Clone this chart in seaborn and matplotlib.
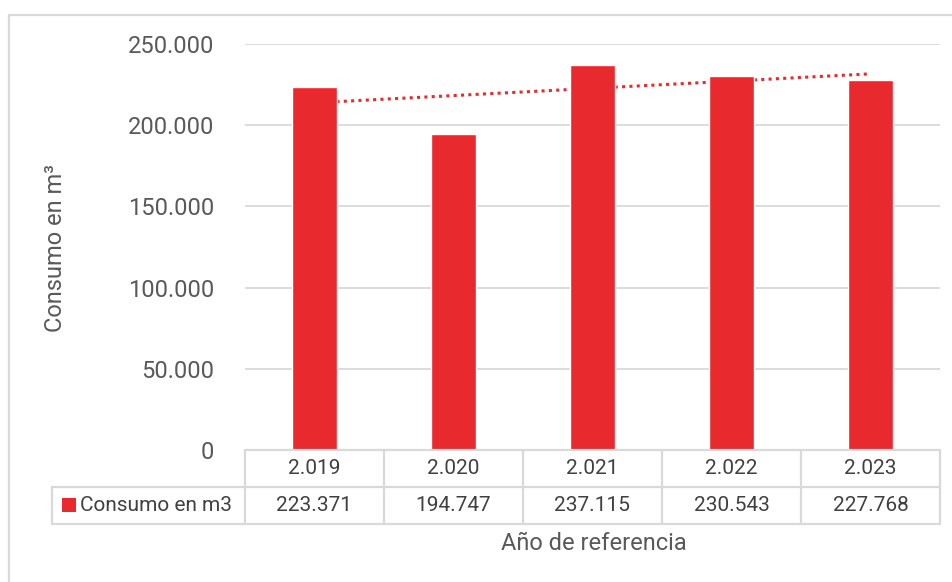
import numpy as np
import pandas as pd
import matplotlib
matplotlib.use("Agg")
import matplotlib.pyplot as plt
from matplotlib.lines import Line2D
from matplotlib.patches import Rectangle
import matplotlib.transforms as mtransforms
import seaborn as sns

# Consumption per reference year
years = ["2.019", "2.020", "2.021", "2.022", "2.023"]
consumo = [223371, 194747, 237115, 230543, 227768]
value_labels = ["223.371", "194.747", "237.115", "230.543", "227.768"]
yticks = [0, 50000, 100000, 150000, 200000, 250000]
ytick_labels = ["0", "50.000", "100.000", "150.000", "200.000", "250.000"]
series_name = "Consumo en m3"

W, H = 953, 582
RED = "#E8292E"
GRID = "#D9D9D9"
TICK_C = "#595959"
TEXT_C = "#404040"

sns.set_theme(style="white")
plt.rcParams["font.family"] = ["Roboto", "DejaVu Sans"]

fig = plt.figure(figsize=(W / 100, H / 100), dpi=100)


def fx(px):
    return px / W


def fy(py):
    return 1 - py / H


# plot area in pixels
L, R, T, B = 245, 940, 44, 450
ax = fig.add_axes([fx(L), fy(B), fx(R) - fx(L), fy(T) - fy(B)])

df = pd.DataFrame({"year": years, "consumo": consumo})
sns.barplot(data=df, x="year", y="consumo", color=RED, saturation=1,
            width=0.33, ax=ax, zorder=3)

# linear trend line
xs = np.arange(len(consumo))
slope, intercept = np.polyfit(xs, consumo, 1)
ax.plot(xs, slope * xs + intercept, linestyle=(0, (1, 1.4)), color=RED,
        linewidth=2.2, zorder=2)

ax.set_xlim(-0.5, len(years) - 0.5)
ax.set_ylim(0, 250000)
ax.set_yticks(yticks)
ax.set_yticklabels(ytick_labels, fontsize=17, color=TICK_C)
ax.tick_params(axis="y", length=0, pad=22)
ax.set_xticks([])
ax.set_xlabel("")
ax.set_ylabel("")
for s in ax.spines.values():
    s.set_visible(False)
for v in yticks[1:]:
    ax.axhline(v, color=GRID, linewidth=1.3, zorder=1)

# data table below the plot
trans = mtransforms.blended_transform_factory(ax.transData, ax.transAxes)
row_h = 37 / (B - T)
y0, y1, y2 = 0.0, -row_h, -2 * row_h
n = len(years)
tbl_kw = dict(color=GRID, linewidth=1.6, clip_on=False, zorder=4)
# horizontal rules
ax.add_line(Line2D([-0.5, n - 0.5], [y0, y0], transform=trans, **tbl_kw))
ax.add_line(Line2D([-0.5, n - 0.5], [y1, y1], transform=trans, **tbl_kw))
ax.add_line(Line2D([-0.5, n - 0.5], [y2, y2], transform=trans, **tbl_kw))
# vertical rules
for i in range(n + 1):
    ax.add_line(Line2D([i - 0.5, i - 0.5], [y0, y2], transform=trans, **tbl_kw))
# legend cell
leg_left = 52
fig.add_artist(Line2D([fx(leg_left), fx(L)], [fy(B + 37), fy(B + 37)], **tbl_kw))
fig.add_artist(Line2D([fx(leg_left), fx(L)], [fy(B + 74), fy(B + 74)], **tbl_kw))
fig.add_artist(Line2D([fx(leg_left), fx(leg_left)], [fy(B + 37), fy(B + 74)], **tbl_kw))
fig.add_artist(Rectangle((fx(62), fy(512)), fx(14), fy(498) - fy(512),
                         facecolor=RED, edgecolor="none"))
fig.text(fx(80), fy(B + 55.5), series_name, fontsize=15, color=TEXT_C,
         ha="left", va="center")

for i, (yr, lab) in enumerate(zip(years, value_labels)):
    ax.text(i, (y0 + y1) / 2, yr, transform=trans, ha="center", va="center",
            fontsize=15, color=TEXT_C)
    ax.text(i, (y1 + y2) / 2, lab, transform=trans, ha="center", va="center",
            fontsize=15, color=TEXT_C)

# axis titles
fig.text(fx(594), fy(544), "Año de referencia", fontsize=17, color=TICK_C,
         ha="center", va="center")
fig.text(fx(56), fy(248), "Consumo en m³", fontsize=17, color=TICK_C,
         ha="center", va="center", rotation=90)

# chart frame
fig.add_artist(Line2D([fx(9), fx(9)], [fy(15), 0], color=GRID, linewidth=1.6))
fig.add_artist(Line2D([fx(9), 1], [fy(15), fy(15)], color=GRID, linewidth=1.6))

fig.savefig("out.png", dpi=100, facecolor="white")
